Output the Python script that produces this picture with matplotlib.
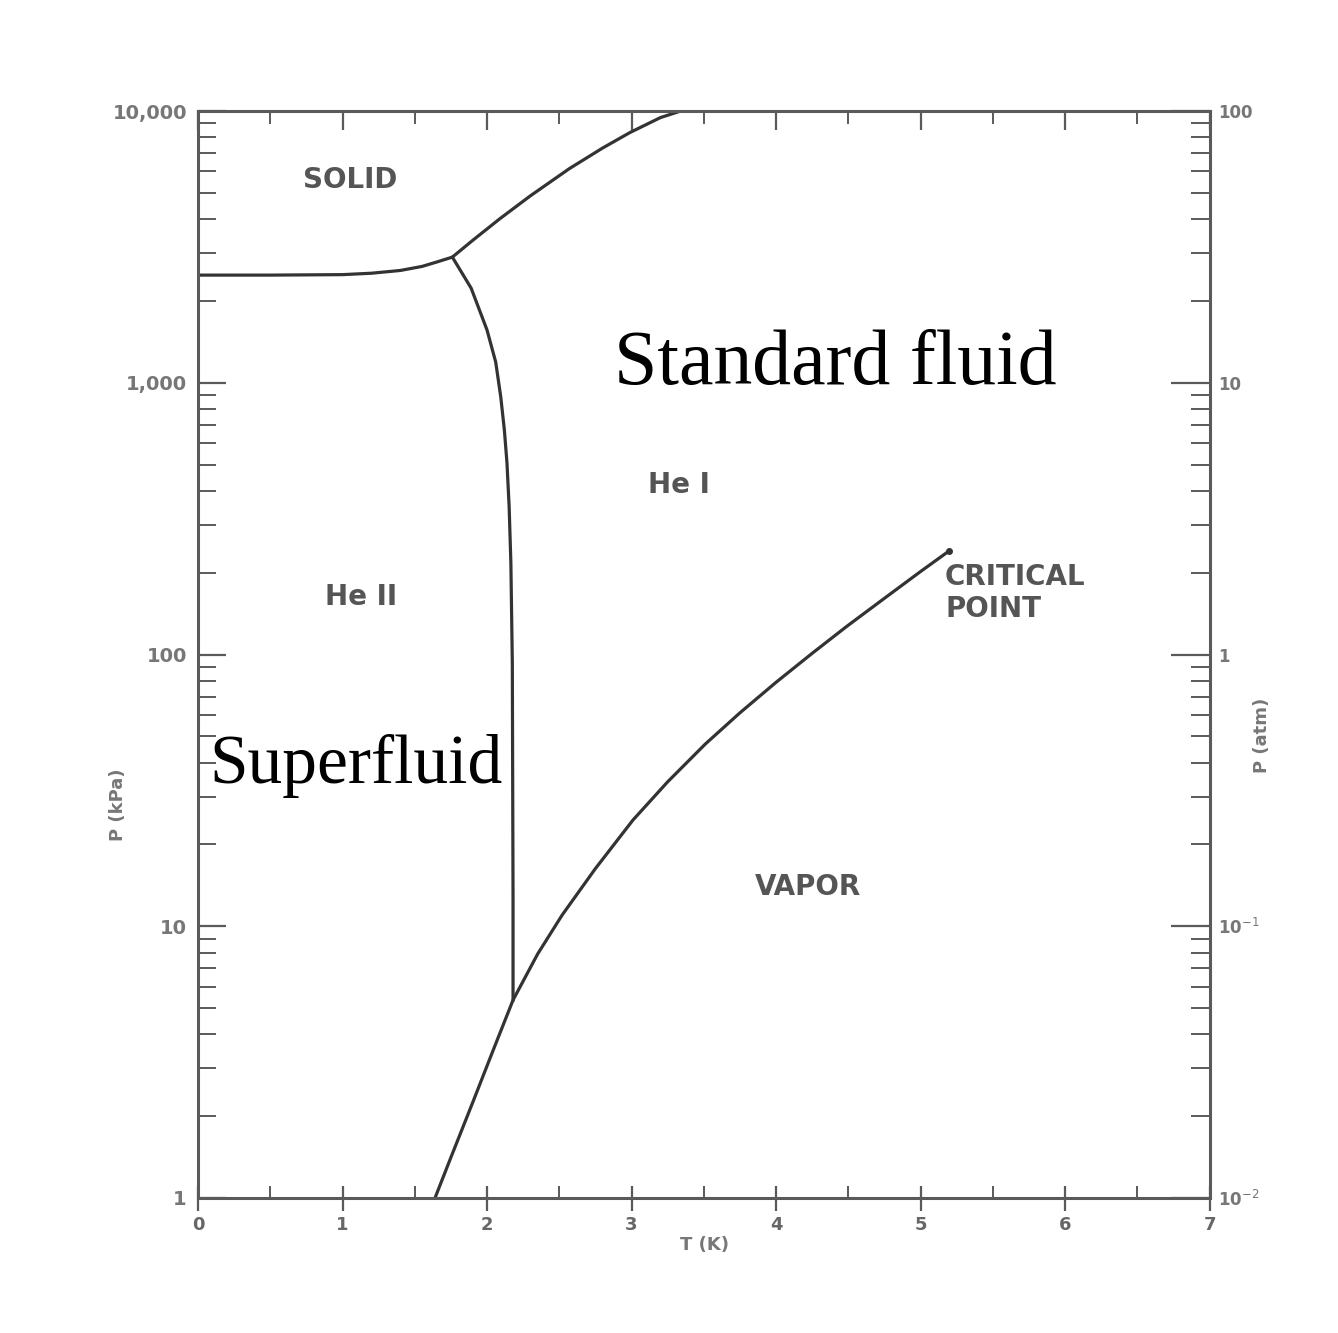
import numpy as np
import matplotlib.pyplot as plt
from matplotlib.ticker import FixedLocator, FixedFormatter, NullFormatter

# melting curve (solid / liquid), T in K, P in kPa
melt_T = [0.0, 0.5, 1.0, 1.2, 1.4, 1.55, 1.65, 1.76, 1.9, 2.09, 2.3, 2.57, 2.8, 2.99, 3.2, 3.34]
melt_P = [2490, 2490, 2500, 2530, 2590, 2680, 2780, 2900, 3340, 4020, 4875, 6140, 7310, 8340,
          9460, 10000]

# lambda line (He I / He II)
lam_T = [1.76, 1.89, 2.00, 2.06, 2.095, 2.12, 2.138, 2.153, 2.165, 2.175, 2.18, 2.18]
lam_P = [2900, 2230, 1563, 1192, 887, 670, 507, 350, 217, 93, 12.8, 5.35]

# saturated vapour pressure curve, ends at the critical point
vap_T = [1.64, 1.75, 1.90, 2.05, 2.18, 2.35, 2.52, 2.75, 3.01, 3.25, 3.51, 3.75, 4.00, 4.25,
         4.49, 4.75, 5.00, 5.20]
vap_P = [1.0, 1.41, 2.24, 3.58, 5.35, 7.9, 11.0, 16.3, 24.6, 34.0, 46.8, 61.0, 79.0, 101,
         127, 161, 202, 241]

kpa_ticks = [1, 10, 100, 1000, 10000]
kpa_labels = ["1", "10", "100", "1,000", "10,000"]
atm_ticks = [0.01, 0.1, 1, 10, 100]
atm_labels = ["10$^{-2}$", "10$^{-1}$", "1", "10", "100"]
t_ticks = [0, 1, 2, 3, 4, 5, 6, 7]

ink = "#333333"
grey = "#5a5a5a"

fig = plt.figure(figsize=(13.38, 13.33), dpi=100)
ax = fig.add_axes([0.148, 0.1013, 0.756, 0.8154])

ax.plot(melt_T, melt_P, color=ink, lw=2.3)
ax.plot(lam_T, lam_P, color=ink, lw=2.3)
ax.plot(vap_T, vap_P, color=ink, lw=2.3)
ax.plot(vap_T[-1], vap_P[-1], "o", color=ink, ms=4)

ax.set_yscale("log")
ax.set_xlim(0, 7)
ax.set_ylim(1, 10000)

for s in ax.spines.values():
    s.set_linewidth(2.2)
    s.set_color(grey)

# left axis, kPa
ax.yaxis.set_major_locator(FixedLocator(kpa_ticks))
ax.yaxis.set_major_formatter(FixedFormatter(kpa_labels))
ax.yaxis.set_minor_formatter(NullFormatter())
ax.tick_params(axis="y", which="major", direction="in", length=20, width=1.6,
               color=grey, labelsize=14, labelcolor="#777777", pad=8, right=False)
ax.tick_params(axis="y", which="minor", direction="in", length=13, width=1.4,
               color=grey, right=False)
for lab in ax.get_yticklabels():
    lab.set_fontweight("bold")

# bottom axis
ax.xaxis.set_major_locator(FixedLocator(t_ticks))
ax.xaxis.set_minor_locator(FixedLocator(np.arange(0.5, 7, 1.0)))
ax.tick_params(axis="x", which="major", direction="inout", length=18, width=1.6,
               color=grey, labelsize=13, labelcolor="#666666", pad=4, top=False)
ax.tick_params(axis="x", which="minor", direction="in", length=9, width=1.4,
               color=grey, top=False)
for lab in ax.get_xticklabels():
    lab.set_fontweight("bold")

# top axis ticks only
top = ax.secondary_xaxis("top")
top.xaxis.set_major_locator(FixedLocator(t_ticks))
top.xaxis.set_minor_locator(FixedLocator(np.arange(0.5, 7, 1.0)))
top.tick_params(which="major", direction="in", length=14, width=1.6, color=grey,
                labeltop=False)
top.tick_params(which="minor", direction="in", length=9, width=1.4, color=grey)
top.spines["top"].set_visible(False)

# right axis, atm
ax2 = ax.twinx()
ax2.set_yscale("log")
ax2.set_ylim(0.01, 100)
ax2.yaxis.set_major_locator(FixedLocator(atm_ticks))
ax2.yaxis.set_major_formatter(FixedFormatter(atm_labels))
ax2.yaxis.set_minor_formatter(NullFormatter())
ax2.tick_params(which="major", direction="in", length=28, width=1.6, color=grey,
                labelsize=12, labelcolor="#777777", pad=6)
ax2.tick_params(which="minor", direction="in", length=14, width=1.4, color=grey)
for s in ax2.spines.values():
    s.set_visible(False)
for lab in ax2.get_yticklabels():
    lab.set_fontweight("bold")

# axis titles
lab_kw = dict(fontsize=13, fontweight="bold", color="#777777")
fig.text(705 / 1338, 1 - 1245 / 1333, "T (K)", ha="center", va="center", **lab_kw)
fig.text(118 / 1338, 1 - 805 / 1333, "P (kPa)", ha="center", va="center",
         rotation=90, **lab_kw)
fig.text(1262 / 1338, 1 - 735 / 1333, "P (atm)", ha="center", va="center",
         rotation=90, **lab_kw)

# region labels
reg_kw = dict(fontsize=20, fontweight="bold", color="#555555", ha="center", va="center")
ax.text(1.05, 5570, "SOLID", **reg_kw)
ax.text(1.13, 163, "He II", **reg_kw)
ax.text(3.33, 420, "He I", **reg_kw)
ax.text(4.22, 13.9, "VAPOR", **reg_kw)
ax.text(5.17, 168, "CRITICAL\nPOINT", fontsize=20, fontweight="bold", color="#555555",
        ha="left", va="center", linespacing=1.2)

serif = dict(family="Liberation Serif", color="black", ha="center", va="center")
ax.text(4.41, 1160, "Standard fluid", fontsize=56, **serif)
ax.text(1.09, 39, "Superfluid", fontsize=50, **serif)

fig.savefig("out.png", dpi=100, facecolor="white")
